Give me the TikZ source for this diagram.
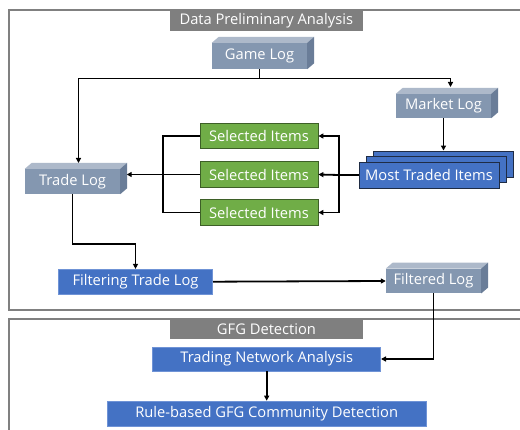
\documentclass[tikz,border=0pt]{standalone}
\usepackage{fontspec}
\setmainfont{Open Sans}
\usetikzlibrary{arrows.meta}
\definecolor{cubefront}{HTML}{8497B0}
\definecolor{cubetop}{HTML}{ADB9CA}
\definecolor{cubeside}{HTML}{6A7D98}
\definecolor{bluebox}{HTML}{4472C4}
\definecolor{blueedge}{HTML}{6F93D6}
\definecolor{greenbox}{HTML}{70AD47}
\definecolor{greenedge}{HTML}{3D5F27}
\definecolor{navyedge}{HTML}{1F2C44}
\definecolor{titlegray}{HTML}{7F7F7F}
\definecolor{framegray}{HTML}{808080}
\tikzset{
  every node/.style={font=\fontsize{14.7}{16}\selectfont, text=white, inner sep=0pt},
  cube/.style={fill=cubefront, minimum width=95pt, minimum height=25pt},
  procbox/.style={fill=bluebox, draw=blueedge, line width=0.6pt, minimum height=25pt},
  itembox/.style={fill=greenbox, draw=greenedge, line width=0.8pt, minimum width=118pt, minimum height=25.5pt},
  stackbox/.style={fill=bluebox, draw=navyedge, line width=0.9pt, minimum width=140pt, minimum height=26pt},
  titlebox/.style={fill=titlegray, minimum width=193pt, minimum height=20.4pt},
  frame/.style={draw=framegray, line width=2pt},
  link/.style={draw=black, line width=1.8pt},
  arr/.style={link, -{Triangle[length=5pt,width=5pt]}},
}
% top and right faces of a 3D box node
\newcommand{\cubefaces}[1]{%
  \fill[cubetop] (#1.north west) -- ++(7,-6) -- ([shift={(7,-6)}]#1.north east) -- (#1.north east) -- cycle;
  \fill[cubeside] (#1.north east) -- ++(7,-6) -- ([shift={(7,-6)}]#1.south east) -- (#1.south east) -- cycle;
}
\begin{document}
\begin{tikzpicture}[x=1pt,y=-1pt]
\useasboundingbox (0,0) rectangle (520,430);
\fill[white] (0,0) rectangle (520,430);

% section frames
\draw[frame] (9,10) rectangle (525,310.5);
\draw[frame] (9,319) rectangle (525,440);
\node[titlebox] (t1) at (266.3,20.5) {Data Preliminary Analysis};
\node[titlebox] (t2) at (266.5,329) {GFG Detection};

% log cubes
\node[cube, minimum height=26pt] (game) at (259.5,56) {Game Log};
\cubefaces{game}
\node[cube, minimum height=24pt] (market) at (443.5,106) {Market Log};
\cubefaces{market}
\node[cube] (trade) at (72.5,181.5) {Trade Log};
\cubefaces{trade}
\node[cube, minimum height=24.5pt] (filtered) at (433.5,281) {Filtered Log};
\cubefaces{filtered}

% selected items
\node[itembox] (sel1) at (259,136) {Selected Items};
\node[itembox] (sel2) at (259,174.5) {Selected Items};
\node[itembox] (sel3) at (259,212.5) {Selected Items};

% stacked most traded items
\node[stackbox] (mtb2) at (443,164) {};
\node[stackbox] (mtb1) at (436,169.5) {};
\node[stackbox] (mti) at (429,175) {Most Traded Items};

% processing steps
\node[procbox, minimum width=154.4pt] (filter) at (135.5,281.7) {Filtering Trade Log};
\node[procbox, minimum width=228pt, minimum height=24.3pt] (tna) at (266.7,359) {Trading Network Analysis};
\node[procbox, minimum width=318.7pt] (rule) at (266.7,413.5) {Rule-based GFG Community Detection};

% junction points
\coordinate (split) at (259.5,78.5);
\coordinate (markettop) at (450.5,87);
\coordinate (tradetop) at (78.5,163);
\coordinate (rj) at (339,175);
\coordinate (lj) at (163.3,174.5);
\coordinate (tradeside) at (126.7,174.5);

% connectors
\draw[link] (game.south) -- (split);
\draw[arr] (split) -| (markettop);
\draw[arr] (split) -| (tradetop);
\draw[arr] (market.south) -- (market.south |- mtb2.north);
\draw[link] (mti.west) -- (rj);
\draw[arr] (rj) |- (sel1.east);
\draw[arr] (rj) -- (sel2.east);
\draw[arr] (rj) |- (sel3.east);
\draw[link] (sel1.west) -| (lj);
\draw[link] (sel3.west) -| (lj);
\draw[arr] (sel2.west) -- (tradeside);
\draw[arr] (trade.south) -- ++(0,50) -| (filter.north);
\draw[arr] (filter.east) -- (filtered.west);
\draw[arr] (filtered.south) |- (tna.east);
\draw[arr] (tna.south) -- (rule.north);
\end{tikzpicture}
\end{document}
